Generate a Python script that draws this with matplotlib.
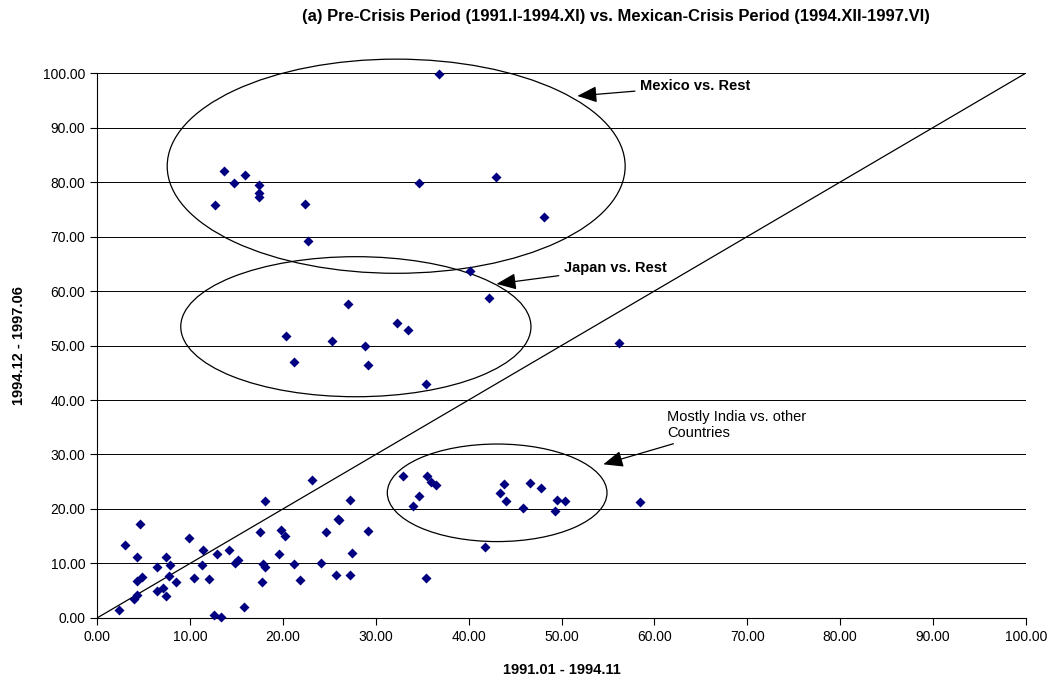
import matplotlib
matplotlib.use("Agg")
from matplotlib import pyplot as plt
from matplotlib.patches import Ellipse
import numpy as np

plt.rcParams['font.family'] = ['Liberation Sans', 'DejaVu Sans']

# pre-crisis (x) vs mexican-crisis (y) correlations
pre_crisis = [2.4, 3.05, 4.6, 4.3, 4.3, 4.85, 3.95, 4.3, 6.5, 6.45, 7.1, 7.45, 7.8, 7.75, 7.45,
              8.45, 9.85, 10.4, 11.4, 11.3, 12.0, 12.55, 13.3, 12.9, 14.25, 14.8, 15.2, 15.8,
              17.55, 18.1, 17.85, 18.1, 17.8, 19.6, 19.85, 20.2, 21.25, 21.8, 23.15, 24.1,
              24.6, 25.9, 26.0, 25.7, 27.2, 27.4, 27.25, 29.2, 35.4, 41.8,
              32.9, 35.5, 36.0, 36.5, 34.7, 34.05, 43.8, 43.4, 44.0, 46.6, 47.8, 45.9,
              49.5, 50.4, 49.3, 58.4,
              40.2, 42.2, 27.0, 32.3, 33.5, 20.35, 25.3, 28.8, 21.2, 29.2, 35.4, 56.2,
              36.8, 13.65, 15.95, 14.75, 17.45, 17.45, 17.45, 12.65, 22.4, 22.7, 34.7, 43.0, 48.1]
mex_crisis = [1.5, 13.4, 17.2, 11.1, 6.8, 7.6, 3.5, 4.3, 9.4, 4.9, 5.5, 11.2, 9.7, 7.7, 4.1,
              6.6, 14.7, 7.3, 12.5, 9.7, 7.2, 0.6, 0.25, 11.7, 12.4, 10.0, 10.7, 2.1,
              15.8, 21.5, 9.9, 9.4, 6.6, 11.8, 16.2, 15.1, 9.9, 7.0, 25.3, 10.0,
              15.8, 18.2, 17.9, 7.8, 21.6, 11.85, 7.8, 16.0, 7.35, 13.0,
              26.0, 26.0, 24.9, 24.4, 22.4, 20.5, 24.6, 22.9, 21.5, 24.7, 23.8, 20.2,
              21.7, 21.5, 19.6, 21.3,
              63.6, 58.7, 57.7, 54.2, 52.8, 51.7, 50.9, 50.0, 47.0, 46.4, 42.9, 50.5,
              99.9, 82.0, 81.2, 79.8, 79.4, 77.9, 77.2, 75.8, 75.9, 69.1, 79.75, 80.85, 73.5]

fig = plt.figure(figsize=(10.55, 6.8), dpi=100)
ax = fig.add_axes([0.092, 0.0912, 0.8805, 0.8014])

ax.set_xlim(0, 100)
ax.set_ylim(0, 100)
ax.set_xticks(np.arange(0, 101, 10))
ax.set_yticks(np.arange(0, 101, 10))
ax.xaxis.set_major_formatter(matplotlib.ticker.FormatStrFormatter('%.2f'))
ax.yaxis.set_major_formatter(matplotlib.ticker.FormatStrFormatter('%.2f'))
ax.tick_params(labelsize=10, length=5, width=0.8, direction='out')

for v in range(10, 101, 10):
    ax.axhline(v, color='black', lw=0.7, zorder=0)

for s in ['top', 'right']:
    ax.spines[s].set_visible(False)

ax.plot([0, 100], [0, 100], color='black', lw=0.9, zorder=1)
ax.scatter(pre_crisis, mex_crisis, marker='D', s=26, color='#000080', zorder=3,
           linewidths=0, clip_on=False)

# circled groups
for c, w, h in [((32.2, 82.9), 49.3, 39.3), ((27.86, 53.45), 37.7, 25.7), ((43.07, 22.97), 23.65, 17.9)]:
    ax.add_patch(Ellipse(c, w, h, fill=False, edgecolor='black', lw=0.9, clip_on=False, zorder=2))

arrow = dict(arrowstyle='-|>,head_length=0.6,head_width=0.25', color='black', lw=0.9,
             mutation_scale=20, shrinkA=2, shrinkB=0)
ax.annotate('Mexico vs. Rest', xy=(51.7, 95.8), xytext=(58.5, 97.6), fontsize=10.5,
            fontweight='bold', va='center', arrowprops=arrow)
ax.annotate('Japan vs. Rest', xy=(43.0, 61.3), xytext=(50.3, 64.2), fontsize=10.5,
            fontweight='bold', va='center', arrowprops=arrow)
ax.annotate('Mostly India vs. other\nCountries', xy=(54.5, 28.2), xytext=(61.4, 35.4),
            fontsize=10.5, va='center', arrowprops=arrow)

ax.set_xlabel('1991.01 - 1994.11', fontsize=10.5, fontweight='bold', labelpad=14)
ax.set_ylabel('1994.12 - 1997.06', fontsize=10.5, fontweight='bold', labelpad=12)

fig.text(616 / 1055, 1 - 16 / 680, '(a) Pre-Crisis Period (1991.I-1994.XI) vs. Mexican-Crisis Period (1994.XII-1997.VI)',
         ha='center', va='center', fontsize=11.9, fontweight='bold')

fig.savefig('out.png', dpi=100)
